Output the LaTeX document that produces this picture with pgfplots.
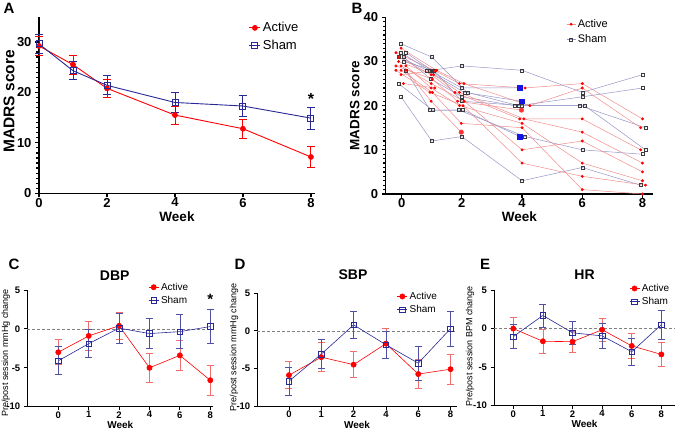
\documentclass[border=0pt]{standalone}
\usepackage{fontspec}
\setmainfont{Liberation Sans}
\usepackage{pgfplots}
\pgfplotsset{compat=1.18}

\definecolor{actred}{RGB}{255,0,0}
\definecolor{shamblue}{RGB}{40,40,150}
\definecolor{lred}{RGB}{240,110,110}
\definecolor{lblue}{RGB}{80,80,165}
\definecolor{spagred}{RGB}{240,140,140}
\definecolor{spagblue}{RGB}{150,150,200}
\definecolor{sqgray}{RGB}{60,60,60}
\definecolor{bigblue}{RGB}{20,20,230}

\pgfplotsset{
  prism/.style={
    scale only axis,
    axis lines*=left,
    axis line style={-, line width=#1},
    tick align=outside,
    tick style={black, line width=#1},
    major tick length=4pt,
    minor tick length=2.5pt,
    clip=false,
    /pgf/number format/assume math mode=true,
    legend cell align=left,
  },
  bottom/.style={
    prism=0.8pt,
    ymin=-10, ymax=5, ytick={-10,-5,0,5}, yticklabels={-10,-5,0,5},
    xtick={0,...,5}, xticklabels={0,1,2,4,6,8},
    major tick length=3.5pt,
    ticklabel style={font=\fontsize{9.5}{9.5}\selectfont\bfseries},
    xticklabel style={inner sep=1pt},
    xlabel={Week},
    xlabel style={font=\fontsize{10}{10}\selectfont\bfseries, at={(axis description cs:0.5,0)}, anchor=center, yshift=-18.5pt},
    title style={font=\fontsize{14}{14}\selectfont\bfseries, anchor=center},
    legend style={draw=none, fill=none, font=\fontsize{10}{12}\selectfont, anchor=north west, inner sep=0pt, row sep=0.5pt},
    legend image code/.code={\draw[#1, mark repeat=2, mark phase=2] plot coordinates {(0pt,0pt) (5pt,0pt) (10pt,0pt)};},
  },
  actb/.style={actred, line width=0.6pt, mark=*, mark size=2.6pt,
    error bars/.cd, y dir=both, y explicit,
    error bar style={lred, line width=0.7pt},
    error mark options={lred, mark size=3.5pt, line width=0.7pt, rotate=90}},
  shamb/.style={shamblue, line width=0.6pt, mark=square, mark size=2.8pt, mark options={fill=white},
    error bars/.cd, y dir=both, y explicit,
    error bar style={lblue, line width=0.7pt},
    error mark options={lblue, mark size=3.5pt, line width=0.7pt, rotate=90}},
  aline/.style={spagred, line width=0.5pt, mark=*, mark size=1.2pt, mark options={actred, fill=actred}},
  sline/.style={spagblue, line width=0.5pt, mark=square, mark size=1.5pt, mark options={sqgray, line width=0.5pt, fill=white}},
}

\begin{document}
\begin{tikzpicture}
\useasboundingbox (0,0) rectangle (685pt,431pt);

% panel letters
\node[font=\fontsize{15}{15}\selectfont\bfseries] at (9pt,423pt) {A};
\node[font=\fontsize{15}{15}\selectfont\bfseries] at (357pt,423pt) {B};
\node[font=\fontsize{15}{15}\selectfont\bfseries] at (14pt,167pt) {C};
\node[font=\fontsize{15}{15}\selectfont\bfseries] at (240pt,167pt) {D};
\node[font=\fontsize{15}{15}\selectfont\bfseries] at (485pt,167pt) {E};

% ---------------- Panel A ----------------
\begin{axis}[prism=1.2pt, at={(39pt,237.7pt)}, anchor=south west,
  width=276pt, height=176.6pt,
  xmin=0, xmax=8.12, ymin=0, ymax=35,
  xtick={0,2,4,6,8}, ytick={0,10,20,30}, minor y tick num=9,
  ticklabel style={font=\fontsize{13}{13}\selectfont\bfseries},
  xticklabel style={inner sep=0.5pt},
  xlabel={Week}, ylabel={MADRS score},
  xlabel style={font=\fontsize{13.5}{13.5}\selectfont\bfseries, at={(axis description cs:0.5,0)}, anchor=center, yshift=-23pt},
  ylabel style={font=\fontsize{15.5}{15.5}\selectfont\bfseries, at={(axis description cs:-0.109,0.52)}, anchor=center},
  legend style={at={(axis description cs:0.76,0.98)}, anchor=north west, draw=none, fill=none, font=\fontsize{13}{15}\selectfont, inner sep=0pt, row sep=3pt},
  legend image code/.code={\draw[#1, mark repeat=2, mark phase=2] plot coordinates {(0pt,0pt) (5.5pt,0pt) (11pt,0pt)};},
]
\addplot[actred, line width=0.9pt, mark=*, mark size=2.4pt,
  error bars/.cd, y dir=both, y explicit,
  error bar style={actred, line width=0.9pt},
  error mark options={actred, mark size=4pt, line width=0.9pt, rotate=90}]
  coordinates {(0,29.2) +- (0,1.9) (1,25.5) +- (0,1.85) (2,20.8) +- (0,1.85)
               (4,15.5) +- (0,1.8) (6,12.8) +- (0,1.9) (8,7.2) +- (0,2.0)};
\addlegendentry{Active}
\addplot[shamblue, line width=0.9pt, mark=square, mark size=3pt, mark options={fill=white},
  error bars/.cd, y dir=both, y explicit,
  error bar style={shamblue, line width=0.9pt},
  error mark options={shamblue, mark size=4pt, line width=0.9pt, rotate=90}]
  coordinates {(0,29.6) +- (0,1.8) (1,24.3) +- (0,1.8) (2,21.4) +- (0,1.9)
               (4,18.0) +- (0,1.9) (6,17.3) +- (0,2.0) (8,14.9) +- (0,2.15)};
\addlegendentry{Sham}
\node[font=\fontsize{16}{16}\selectfont\bfseries] at (axis cs:8,18.7) {*};
\end{axis}

% ---------------- Panel B ----------------
\begin{axis}[prism=1.2pt, at={(385.7pt,237pt)}, anchor=south west,
  width=267.3pt, height=176.7pt,
  xmin=-0.53, xmax=8.35, ymin=0, ymax=40,
  xtick={0,2,4,6,8}, ytick={0,10,20,30,40}, minor y tick num=9,
  ticklabel style={font=\fontsize{13}{13}\selectfont\bfseries},
  xticklabel style={inner sep=0.5pt},
  xlabel={Week}, ylabel={MADRS score},
  xlabel style={font=\fontsize{13.5}{13.5}\selectfont\bfseries, at={(axis description cs:0.5,0)}, anchor=center, yshift=-23pt},
  ylabel style={font=\fontsize{13.5}{13.5}\selectfont\bfseries, at={(axis description cs:-0.116,0.5)}, anchor=center},
  legend style={at={(axis description cs:0.675,1.0)}, anchor=north west, draw=none, fill=none, font=\fontsize{11}{13}\selectfont, inner sep=0pt, row sep=2pt},
  legend image code/.code={\draw[#1, mark repeat=2, mark phase=2] plot coordinates {(0pt,0pt) (4.5pt,0pt) (9pt,0pt)};},
]
\addplot[aline] coordinates {(-0.19,32) (1.08,28) (1.92,25) (4.1,24) (6.0,25) (8.0,17)};
\addlegendentry{Active}
\addplot[sline] coordinates {(-0.02,34) (1.00,31) (2.18,23) (3.88,20) (6.0,22) (8.0,24)};
\addlegendentry{Sham}
% sham subjects
\addplot[sline, forget plot] coordinates {(0.14,32) (1.0,28) (2.0,29) (4.0,28) (6.0,23) (8.0,27)};
\addplot[sline, forget plot] coordinates {(-0.02,32) (0.92,28) (2.0,24) (3.93,24)};
\addplot[sline, forget plot] coordinates {(-0.1,31) (0.85,28) (2.08,23) (3.98,21)};
\addplot[sline, forget plot] coordinates {(0.06,31) (0.98,26) (2.0,22) (3.77,20) (5.92,20) (8.1,15)};
\addplot[sline, forget plot] coordinates {(0.06,30) (1.08,28) (2.0,21) (4.0,20) (6.08,20) (8.1,10)};
\addplot[sline, forget plot] coordinates {(0.14,28) (0.94,19) (1.9,19) (4.1,13) (6.0,10) (8.0,9)};
\addplot[sline, forget plot] coordinates {(-0.1,25) (1.02,19) (2.04,19) (3.93,13)};
\addplot[sline, forget plot] coordinates {(-0.02,22) (1.0,12) (2.0,13) (4.0,3) (6.0,6) (7.94,2)};
% active subjects
\addplot[aline, forget plot] coordinates {(-0.02,33) (1.16,28) (2.07,25) (4.26,20) (6.0,24) (7.94,15)};
\addplot[aline, forget plot] coordinates {(-0.1,31) (0.98,27) (1.77,23) (3.92,17) (6.0,17) (7.94,10)};
\addplot[aline, forget plot] coordinates {(-0.1,30) (1.06,27) (1.92,23) (4.06,17) (6.0,14) (8.0,7)};
\addplot[aline, forget plot] coordinates {(-0.19,29) (1.02,26) (1.86,21) (3.98,19)};
\addplot[aline, forget plot] coordinates {(-0.02,29) (0.98,25) (2.08,21) (4.0,10) (6.0,12) (8.0,5)};
\addplot[aline, forget plot] coordinates {(0.14,29) (0.98,24) (1.92,20) (4.0,16) (6.0,7) (8.0,3)};
\addplot[aline, forget plot] coordinates {(-0.19,28) (0.94,23) (2.04,20) (4.0,7) (6.0,4) (8.1,2)};
\addplot[aline, forget plot] coordinates {(-0.02,28) (1.02,23) (1.98,16) (4.0,15) (6.0,1) (8.0,0)};
\addplot[aline, forget plot] coordinates {(0.14,28) (0.98,21) (1.98,14)};
\addplot[aline, forget plot] coordinates {(-0.02,27) (1.16,28)};
\addplot[aline, forget plot] coordinates {(0.06,25) (1.1,24)};
% highlighted last observations
\addplot[only marks, mark=square*, mark size=2.3pt, bigblue, forget plot] coordinates {(3.93,24) (3.98,21) (3.93,13)};
\addplot[only marks, mark=*, mark size=2.3pt, actred!80, forget plot] coordinates {(1.98,14) (3.98,19)};
\end{axis}

% ---------------- Panel C ----------------
\begin{axis}[bottom, at={(27.3pt,24.3pt)}, anchor=south west,
  width=186pt, height=116.7pt, xmin=-1.02, xmax=5.1,
  ylabel={Pre/post session mmHg change},
  ylabel style={font=\fontsize{9}{9}\selectfont, at={(axis description cs:-0.115,0.46)}, anchor=center},
  title={DBP}, title style={at={(axis description cs:0.47,1.07)}},
  legend style={at={(axis description cs:0.65,1.08)}},
]
\draw[gray, dashed, line width=0.7pt, dash pattern=on 3pt off 2pt] (axis cs:-1.02,0) -- (axis cs:5.1,0);
\addplot[actb] coordinates {(0,-3.0) +- (0,1.6) (1,-0.9) +- (0,1.9) (2,0.4) +- (0,1.75)
  (3,-5.0) +- (0,1.9) (4,-3.4) +- (0,1.9) (5,-6.6) +- (0,1.9)};
\addlegendentry{Active}
\addplot[shamb] coordinates {(0,-4.1) +- (0,1.8) (1,-1.9) +- (0,1.8) (2,0.1) +- (0,1.9)
  (3,-0.6) +- (0,1.9) (4,-0.35) +- (0,2.2) (5,0.3) +- (0,2.2)};
\addlegendentry{Sham}
\node[font=\fontsize{15}{15}\selectfont\bfseries] at (axis cs:5,3.8) {*};
\end{axis}

% ---------------- Panel D ----------------
\begin{axis}[bottom, at={(257.3pt,25pt)}, anchor=south west,
  width=199.4pt, height=112.7pt, xmin=-0.98, xmax=5.19,
  ylabel={Pre/post session mmHg change},
  ylabel style={font=\fontsize{9}{9}\selectfont, at={(axis description cs:-0.117,0.52)}, anchor=center},
  title={SBP}, title style={at={(axis description cs:0.48,1.11)}},
  legend style={at={(axis description cs:0.70,1.03)}},
]
\draw[gray, dashed, line width=0.7pt, dash pattern=on 3pt off 2pt] (axis cs:-0.98,0) -- (axis cs:5.19,0);
\addplot[actb] coordinates {(0,-5.9) +- (0,1.8) (1,-3.5) +- (0,1.95) (2,-4.5) +- (0,1.75)
  (3,-1.7) +- (0,2.0) (4,-5.75) +- (0,1.9) (5,-5.1) +- (0,2.0)};
\addlegendentry{Active}
\addplot[shamb] coordinates {(0,-6.7) +- (0,1.85) (1,-3.1) +- (0,1.95) (2,0.8) +- (0,1.85)
  (3,-1.85) +- (0,1.85) (4,-4.3) +- (0,2.3) (5,0.3) +- (0,2.3)};
\addlegendentry{Sham}
\end{axis}

% ---------------- Panel E ----------------
\begin{axis}[bottom, at={(494pt,25.3pt)}, anchor=south west,
  width=181pt, height=115.7pt, xmin=-0.65, xmax=5.46,
  ylabel={Pre/post session BPM change},
  ylabel style={font=\fontsize{9}{9}\selectfont, at={(axis description cs:-0.133,0.51)}, anchor=center},
  title={HR}, title style={at={(axis description cs:0.50,1.08)}},
  legend style={at={(axis description cs:0.746,1.07)}},
]
\draw[gray, dashed, line width=0.7pt, dash pattern=on 3pt off 2pt] (axis cs:-0.65,0) -- (axis cs:5.46,0);
\addplot[actb] coordinates {(0,0.0) +- (0,1.45) (1,-1.65) +- (0,1.55) (2,-1.7) +- (0,1.4)
  (3,-0.15) +- (0,1.5) (4,-2.25) +- (0,1.6) (5,-3.35) +- (0,1.6)};
\addlegendentry{Active}
\addplot[shamb] coordinates {(0,-1.05) +- (0,1.55) (1,1.7) +- (0,1.5) (2,-0.55) +- (0,1.5)
  (3,-0.95) +- (0,1.6) (4,-3.0) +- (0,1.75) (5,0.5) +- (0,1.85)};
\addlegendentry{Sham}
\end{axis}
\end{tikzpicture}
\end{document}
